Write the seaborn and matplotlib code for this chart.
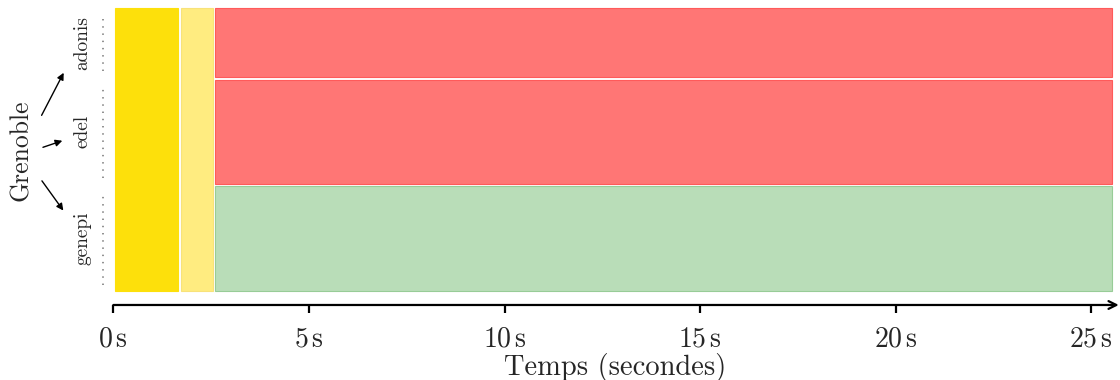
import numpy as np
import pandas as pd
import matplotlib.pyplot as plt
import matplotlib.transforms as mtransforms
import seaborn as sns

# ─── DATA ───────────────────────────────────────────────
nodes = ["genepi", "edel", "adonis"]
node_sizes = [3, 3, 2]          # relative height of each node row
site = "Grenoble"

# phases shared by all nodes (start, end in seconds)
shared_starts = [0.0, 1.70]
shared_ends = [1.70, 2.57]
shared_colors = ["#fde00b", "#ffec80"]
shared_edges = ["#fde00b", "#f8e27a"]

# per-node phase
node_starts = [2.57, 2.57, 2.57]
node_ends = [25.57, 25.57, 25.57]
node_status = ["ok", "fail", "fail"]
status_colors = {"ok": "#b9ddb8", "fail": "#ff7675"}
status_edges = {"ok": "#98cc97", "fail": "#ff5a5a"}

xticks = [0, 5, 10, 15, 20, 25]
xlabel = "Temps (secondes)"

# ─── STYLE ──────────────────────────────────────────────
sns.set_theme(style="white")
plt.rcParams["font.family"] = ["cmr10", "DejaVu Serif"]
plt.rcParams["mathtext.fontset"] = "cm"
plt.rcParams["axes.formatter.use_mathtext"] = True

df = pd.DataFrame({"node": nodes, "size": node_sizes,
                   "start": node_starts, "end": node_ends, "status": node_status})
df["bottom"] = np.cumsum([0] + node_sizes[:-1])
df["top"] = df["bottom"] + df["size"]
total = df["top"].max()

fig = plt.figure(figsize=(11.2, 3.8), dpi=100)
ax = fig.add_axes([0.1012, 0.1974, 0.8959, 0.784])

gx = 0.035   # gap between boxes (s)
gy = 0.035   # gap between rows

for s, e, c, ec in zip(shared_starts, shared_ends, shared_colors, shared_edges):
    ax.barh(gy, e - s - 2 * gx, left=s + gx, height=total - 2 * gy, align="edge",
            color=c, edgecolor=ec, linewidth=0.8)

for _, r in df.iterrows():
    ax.barh(r["bottom"] + gy, r["end"] - r["start"] - 2 * gx, left=r["start"] + gx,
            height=r["size"] - 2 * gy, align="edge",
            color=status_colors[r["status"]], edgecolor=status_edges[r["status"]],
            linewidth=0.8)

ax.set_xlim(0, 25.65)
ax.set_ylim(-0.37, total)

# node labels + dotted resource markers
trans = mtransforms.blended_transform_factory(ax.transAxes, ax.transData)
for _, r in df.iterrows():
    mid = (r["bottom"] + r["top"]) / 2
    ax.text(-0.031, mid, r["node"], transform=trans, rotation=90,
            ha="center", va="center", fontsize=14)
    ax.plot([-0.0103, -0.0103], [r["bottom"] + 0.2, r["top"] - 0.3], transform=trans,
            color="#888888", lw=1.3, linestyle=(0, (0.8, 3.2)), clip_on=False,
            solid_capstyle="butt")

# site label and arrows
fig.text(0.019, 0.605, site, rotation=90, ha="center", va="center", fontsize=18.5)
for (x0, y0), (x1, y1) in [((0.036, 0.69), (0.058, 0.815)),
                           ((0.036, 0.61), (0.058, 0.632)),
                           ((0.036, 0.53), (0.058, 0.44))]:
    fig.add_artist(plt.matplotlib.patches.FancyArrowPatch(
        (x0, y0), (x1, y1), transform=fig.transFigure, arrowstyle="-|>",
        mutation_scale=10, lw=1.0, color="black"))

# x axis with arrow
for sp in ["top", "right", "left", "bottom"]:
    ax.spines[sp].set_visible(False)
ax.annotate("", xy=(1.002, 0), xytext=(0, 0), xycoords="axes fraction",
            arrowprops=dict(arrowstyle="->", lw=1.6, color="black",
                            shrinkA=0, shrinkB=0, mutation_scale=14))
ax.set_yticks([])
ax.set_xticks(xticks)
ax.set_xticklabels([rf"${t}\,\mathrm{{s}}$" for t in xticks], fontsize=20)
ax.tick_params(axis="x", direction="out", length=6, width=1.6, color="black", pad=9,
               bottom=True)
ax.set_xlabel(xlabel, fontsize=20.5, labelpad=0.5)

fig.savefig("out.png", dpi=100)
